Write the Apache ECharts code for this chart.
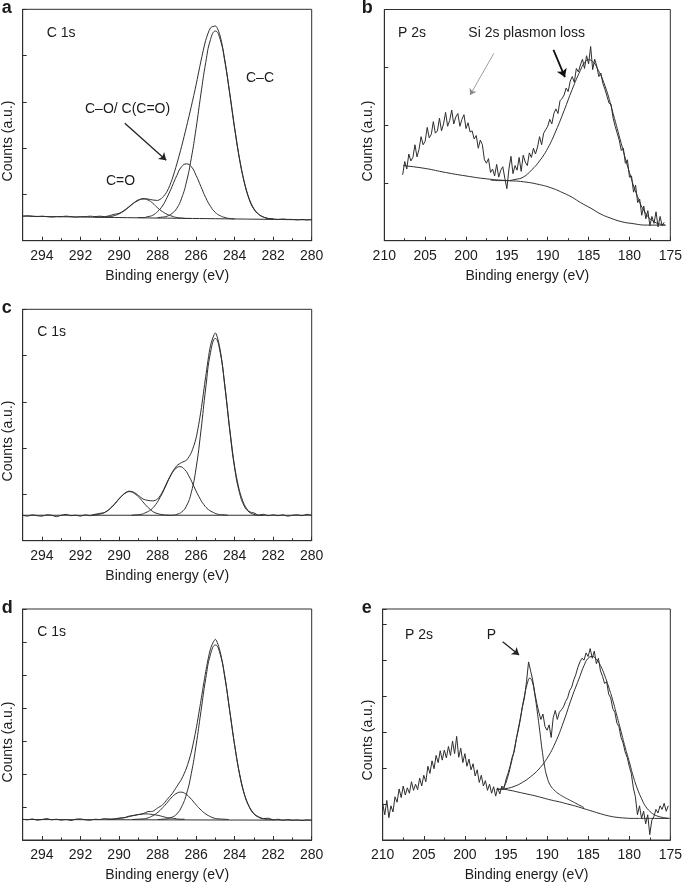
<!DOCTYPE html>
<html><head><meta charset="utf-8">
<script src="https://cdn.jsdelivr.net/npm/echarts@6/dist/echarts.min.js"></script>
<style>html,body{margin:0;padding:0;background:#fff}#c{width:685px;height:884px}</style>
</head><body><div id="c"></div>
<script>
// ---------- shared energy grids (eV) ----------
const cEnergy = [295,294.75,294.5,294.25, 294,293.75,293.5,293.25, 293,292.75,292.5,292.25, 292,291.75,291.5,291.25,
  291,290.75,290.5,290.25, 290,289.75,289.5,289.25, 289,288.75,288.5,288.25, 288,287.75,287.5,287.25,
  287,286.75,286.5,286.25, 286,285.75,285.5,285.25, 285,284.75,284.5,284.25, 284,283.75,283.5,283.25,
  283,282.75,282.5,282.25, 282,281.75,281.5,281.25, 281,280.75,280.5,280.25, 280];

// ---------- panel a: C 1s ----------
const aRaw = [0.53,0.54,0.53,0.52, 0.53,0.52,0.51,0.52, 0.52,0.53,0.52,0.51, 0.52,0.52,0.53,0.52,
  0.53,0.52,0.54,0.57, 0.59,0.65,0.73,0.81, 0.87,0.91,0.90,0.88, 0.87,0.93,1.07,1.32,
  1.66,2.04,2.46,2.90, 3.37,3.88,4.33,4.60, 4.64,4.42,3.88,3.18, 2.44,1.78,1.27,0.91,
  0.69,0.57,0.51,0.48, 0.47,0.46,0.47,0.46, 0.46,0.45,0.46,0.45, 0.46];
const aCCE = [288,287.75,287.5,287.25,287,286.75,286.5,286.25,286,285.75,285.5,285.25,285,284.75,284.5,284.25,284,283.75,283.5,283.25,283,282.75,282.5,282.25,282];
const aCC  = [0.50,0.51,0.53,0.59,0.70,0.92,1.27,1.78,2.43,3.17,3.85,4.35,4.53,4.35,3.85,3.16,2.42,1.77,1.26,0.90,0.68,0.57,0.51,0.48,0.47];
const aCOE = [289,288.75,288.5,288.25,288,287.75,287.5,287.25,287,286.75,286.5,286.25,286,285.75,285.5,285.25,285,284.75,284.5,284.25,284];
const aCO  = [0.50,0.50,0.52,0.55,0.63,0.75,0.94,1.17,1.41,1.60,1.66,1.60,1.41,1.17,0.93,0.74,0.61,0.54,0.50,0.48,0.47];
const aCdOE = [291.25,291,290.75,290.5,290.25,290,289.75,289.5,289.25,289,288.75,288.5,288.25,288,287.75,287.5,287.25,287,286.75,286.5,286.25];
const aCdO  = [0.51,0.51,0.51,0.52,0.54,0.58,0.64,0.72,0.81,0.88,0.90,0.88,0.81,0.71,0.63,0.57,0.53,0.50,0.49,0.48,0.48];
const aBgE = [295,290,285,280];
const aBg  = [0.53,0.50,0.475,0.45];

// ---------- panel c: C 1s ----------
const cRaw = [0.55,0.53,0.56,0.54, 0.53,0.56,0.55,0.52, 0.55,0.57,0.54,0.55, 0.53,0.56,0.54,0.57,
  0.59,0.61,0.68,0.78, 0.90,1.01,1.07,1.05, 0.98,0.90,0.87,0.86, 0.90,1.05,1.27,1.47,
  1.62,1.69,1.74,1.90, 2.22,2.80,3.55,4.22, 4.49,4.12,3.33,2.40, 1.60,1.08,0.78,0.63,
  0.60,0.55,0.57,0.54, 0.56,0.54,0.56,0.53, 0.55,0.56,0.54,0.57, 0.55];
const cCCE = [287.5,287.25,287,286.75,286.5,286.25,286,285.75,285.5,285.25,285,284.75,284.5,284.25,284,283.75,283.5,283.25,283,282.75,282.5];
const cCC  = [0.55,0.55,0.57,0.62,0.75,1.04,1.57,2.37,3.30,4.07,4.37,4.07,3.30,2.37,1.57,1.04,0.75,0.62,0.57,0.55,0.55];
const cCOE = [289.35,289.1,288.85,288.6,288.35,288.1,287.85,287.6,287.35,287.1,286.85,286.6,286.35,286.1,285.85,285.6,285.35,285.1,284.85,284.6,284.35];
const cCO  = [0.55,0.56,0.57,0.61,0.67,0.78,0.95,1.16,1.38,1.54,1.60,1.54,1.38,1.16,0.95,0.78,0.67,0.61,0.57,0.56,0.55];
const cCdOE = [291.45,291.2,290.95,290.7,290.45,290.2,289.95,289.7,289.45,289.2,288.95,288.7,288.45,288.2,287.95,287.7,287.45];
const cCdO  = [0.55,0.56,0.58,0.62,0.70,0.81,0.93,1.02,1.06,1.02,0.93,0.81,0.70,0.62,0.58,0.56,0.55];
const cBgE = [295,280];
const cBg  = [0.55,0.55];

// ---------- panel d: C 1s ----------
const dRaw = [0.63,0.61,0.64,0.60, 0.62,0.65,0.61,0.63, 0.60,0.62,0.59,0.63, 0.64,0.61,0.60,0.63,
  0.62,0.65,0.63,0.64, 0.66,0.67,0.72,0.74, 0.77,0.80,0.86,0.87, 0.97,1.06,1.23,1.40,
  1.62,1.85,2.18,2.66, 3.36,4.22,5.10,5.80, 6.08,5.70,4.93,3.90, 2.88,2.02,1.40,1.02,
  0.80,0.70,0.65,0.66, 0.61,0.63,0.60,0.62, 0.60,0.61,0.59,0.61, 0.60];
const dCCE = [288,287.75,287.5,287.25,287,286.75,286.5,286.25,286,285.75,285.5,285.25,285,284.75,284.5,284.25,284,283.75,283.5,283.25,283,282.75,282.5,282.25,282];
const dCC  = [0.62,0.63,0.645,0.69,0.79,1.01,1.39,2.01,2.87,3.89,4.89,5.63,5.91,5.63,4.89,3.89,2.87,2.01,1.39,1.01,0.79,0.69,0.64,0.63,0.62];
const dCOE = [289.3,289.05,288.8,288.55,288.3,288.05,287.8,287.55,287.3,287.05,286.8,286.55,286.3,286.05,285.8,285.55,285.3,285.05,284.8,284.55,284.3];
const dCO  = [0.62,0.63,0.64,0.66,0.72,0.81,0.94,1.10,1.27,1.40,1.45,1.40,1.27,1.10,0.94,0.81,0.72,0.66,0.64,0.63,0.62];
const dCdOE = [290.6,290.35,290.1,289.85,289.6,289.35,289.1,288.85,288.6,288.35,288.1,287.85,287.6,287.35,287.1,286.85,286.6];
const dCdO  = [0.63,0.63,0.65,0.67,0.69,0.73,0.76,0.78,0.79,0.78,0.76,0.73,0.69,0.67,0.65,0.63,0.63];
const dBgE = [295,280];
const dBg  = [0.62,0.60];

// ---------- panel b: P 2s ----------
const bEnergy = [207.75,207.5,207.25,
  207,206.75,206.5,206.25, 206,205.75,205.5,205.25, 205,204.75,204.5,204.25, 204,203.75,203.5,203.25,
  203,202.75,202.5,202.25, 202,201.75,201.5,201.25, 201,200.75,200.5,200.25, 200,199.75,199.5,199.25,
  199,198.75,198.5,198.25, 198,197.75,197.5,197.25, 197,196.75,196.5,196.25, 196,195.75,195.5,195.25,
  195,194.75,194.5,194.25, 194,193.75,193.5,193.25, 193,192.75,192.5,192.25, 192,191.75,191.5,191.25,
  191,190.75,190.5,190.25, 190,189.75,189.5,189.25, 189,188.75,188.5,188.25, 188,187.75,187.5,187.25,
  187,186.75,186.5,186.25, 186,185.75,185.5,185.25, 185,184.75,184.5,184.25, 184,183.75,183.5,183.25,
  183,182.75,182.5,182.25, 182,181.75,181.5,181.25, 181,180.75,180.5,180.25, 180,179.75,179.5,179.25,
  179,178.75,178.5,178.25, 178,177.75,177.5,177.25, 177,176.75,176.5,176.25, 176,175.75];
const bRaw = [1.14,1.37,1.24,
  1.50,1.38,1.44,1.66, 1.45,1.58,1.80,1.66, 1.72,1.96,1.78,1.84, 2.06,1.86,1.90,2.12,
  1.90,2.02,2.22,1.98, 2.08,2.26,2.02,2.14, 2.20,1.98,2.10,2.18, 1.94,2.04,1.88,1.90,
  1.76,1.82,1.60,1.74, 1.66,1.40,1.34,1.42, 1.18,1.24,1.12,1.32, 1.10,1.22,1.28,1.08,
  0.90,1.24,1.46,1.16, 1.30,1.22,1.44,1.20, 1.48,1.36,1.30,1.52, 1.44,1.60,1.50,1.62,
  1.80,1.66,1.86,1.92, 1.98,2.10,2.02,2.20, 2.28,2.20,2.42,2.46, 2.52,2.64,2.58,2.76,
  2.84,2.74,2.98,2.92, 3.04,3.14,2.98,3.20, 3.06,3.36,2.96,3.14, 3.02,2.84,2.90,2.72,
  2.62,2.50,2.38,2.36, 2.12,1.98,1.86,1.74, 1.56,1.60,1.34,1.40, 1.10,1.12,0.84,0.96,
  0.66,0.72,0.44,0.60, 0.38,0.52,0.26,0.42, 0.30,0.50,0.24,0.42, 0.26,0.32];
const bFitE = [197,196,195,194,193,192,191,190,189,188,187,186,185.5,185,184.5,184,183,182,181,180,179,178,177,176,175.6];
const bFit  = [1.05,1.04,1.04,1.06,1.10,1.22,1.38,1.60,1.90,2.25,2.62,2.95,3.08,3.13,3.10,3.00,2.68,2.20,1.68,1.18,0.76,0.47,0.33,0.28,0.27];
const bBgE = [207.7,205,202.5,200,197.5,195,193,191,189.5,188,187,186,184.7,183.5,182.3,181,179.8,177.8,175.6];
const bBg  = [1.30,1.25,1.18,1.12,1.07,1.04,1.02,0.97,0.91,0.82,0.75,0.66,0.56,0.46,0.39,0.33,0.30,0.27,0.27];

// ---------- panel e: P 2s ----------
const eEnergy = [210,209.75,209.5,209.25, 209,208.75,208.5,208.25, 208,207.75,207.5,207.25, 207,206.75,206.5,206.25,
  206,205.75,205.5,205.25, 205,204.75,204.5,204.25, 204,203.75,203.5,203.25, 203,202.75,202.5,202.25,
  202,201.75,201.5,201.25, 201,200.75,200.5,200.25, 200,199.75,199.5,199.25, 199,198.75,198.5,198.25,
  198,197.75,197.5,197.25, 197,196.75,196.5,196.25, 196,195.75,195.5,195.25, 195,194.75,194.5,194.25,
  194,193.75,193.5,193.25, 193,192.75,192.5,192.25, 192,191.75,191.5,191.25, 191,190.75,190.5,190.25,
  190,189.75,189.5,189.25, 189,188.75,188.5,188.25, 188,187.75,187.5,187.25, 187,186.75,186.5,186.25,
  186,185.75,185.5,185.25, 185,184.75,184.5,184.25, 184,183.75,183.5,183.25, 183,182.75,182.5,182.25,
  182,181.75,181.5,181.25, 181,180.75,180.5,180.25, 180,179.75,179.5,179.25, 179,178.75,178.5,178.25,
  178,177.75,177.5,177.25, 177,176.75,176.5,176.25, 176,175.75,175.5,175.25];
const eRaw = [1.02,0.70,1.10,0.62, 0.95,0.78,1.20,1.05, 1.42,1.18,1.50,1.25, 1.45,1.30,1.62,1.38,
  1.55,1.40,1.72,1.50, 1.80,1.62,2.05,1.85, 2.20,1.98,2.35,2.15, 2.48,2.22,2.50,2.28,
  2.60,2.35,2.75,2.40, 2.88,2.30,2.55,2.15, 2.40,2.05,2.25,1.95, 2.12,1.78,1.95,1.60,
  1.80,1.50,1.65,1.38, 1.55,1.30,1.48,1.22, 1.45,1.28,1.50,1.42, 1.68,1.85,2.05,2.30,
  2.45,2.80,3.05,3.35, 3.70,3.95,4.40,4.95, 4.70,4.45,4.10,3.80, 3.55,3.35,3.50,3.15,
  3.05,3.20,2.85,3.40, 3.60,3.35,3.55,3.62, 3.70,3.85,3.95,4.15, 4.25,4.45,4.60,4.80,
  4.95,5.05,5.00,5.20, 5.10,5.32,5.05,5.25, 4.90,5.05,4.70,4.55, 4.35,4.40,4.05,3.95,
  3.65,3.55,3.25,3.15, 2.85,2.70,2.45,2.30, 2.05,1.85,1.45,1.20, 0.70,0.95,0.60,0.80,
  0.45,0.70,0.15,0.55, 0.65,0.85,0.75,0.95, 0.85,1.02,0.80,0.95];
const ePE = [195.6,195.2,194.8,194.4,194,193.6,193.2,192.8,192.4,192.1,191.8,191.5,191.2,190.9,190.6,190.3,190,189.6,189,188.5,188,187.5,187,186.5,186,185.5];
const eP  = [1.41,1.50,1.74,2.10,2.50,2.98,3.45,3.95,4.35,4.50,4.40,4.05,3.58,3.05,2.50,2.05,1.75,1.52,1.36,1.27,1.20,1.14,1.08,1.02,0.96,0.90];
const ePlE = [196,195,194,193,192,191,190,189,188,187,186,185.5,185,184.5,184,183.5,183,182.5,182,181.5,181,180.5,180,179.5,179,178.5,178,177.5,177,176.5,176,175.5,175.1];
const ePl  = [1.41,1.43,1.49,1.60,1.76,1.97,2.27,2.70,3.28,3.95,4.55,4.85,5.05,5.10,5.02,4.85,4.58,4.25,3.88,3.45,3.02,2.58,2.18,1.76,1.42,1.15,0.93,0.80,0.71,0.66,0.63,0.61,0.60];
const eBgE = [196.2,195.5,194.5,193.5,192.5,191.5,190.5,189.5,188.5,187.5,186.5,185.5,184.5,183.5,182.5,181.5,180.5,179.5,178,176.5,175.1];
const eBg  = [1.41,1.41,1.38,1.33,1.28,1.23,1.17,1.11,1.06,1.00,0.94,0.87,0.80,0.73,0.67,0.63,0.61,0.60,0.60,0.60,0.60];

// ---------- axis ticks ----------
const cTicks = {min:280, max:295, interval:2};
const pTicks = {min:175, max:210, interval:5};
const yMax = {a:5, b:4, c:5, d:7, e:6.42};

// ---------- build ----------
const FONT = '"Liberation Sans", Arial, Helvetica, sans-serif';
const INK = '#2e2e2e';
const pair = (xs, ys) => xs.map((x, i) => [x, ys[i]]);

const grids = [
  {left:22.7, top:9.3, width:289, height:231.4},
  {left:384.3, top:9.5, width:289, height:231.2},
  {left:22.7, top:309.3, width:289, height:231.4},
  {left:22.7, top:609, width:289, height:231},
  {left:382.7, top:609, width:289.6, height:231}
].map(g => Object.assign({show:true, borderColor:INK, borderWidth:1, backgroundColor:'transparent'}, g));

function xAx(i, t, hideMax) {
  return {type:'value', gridIndex:i, min:t.min, max:t.max, interval:t.interval, inverse:true,
    axisLine:{show:true, onZero:false, lineStyle:{color:INK, width:1}},
    axisTick:{show:true, inside:true, length:4, lineStyle:{color:INK}},
    minorTick:{show:true, splitNumber:2, length:2.5, lineStyle:{color:INK}},
    splitLine:{show:false},
    axisLabel:{color:'#1c1c1c', fontFamily:FONT, fontSize:14, margin:8, showMaxLabel:!hideMax},
    name:'Binding energy (eV)', nameLocation:'middle', nameGap:28,
    nameTextStyle:{color:'#1c1c1c', fontFamily:FONT, fontSize:14}};
}
function yAx(i, max) {
  return {type:'value', gridIndex:i, min:0, max:max, interval:1,
    axisLine:{show:true, onZero:false, lineStyle:{color:INK, width:1}},
    axisTick:{show:true, inside:true, length:4, lineStyle:{color:INK}},
    axisLabel:{show:false}, splitLine:{show:false}};
}
function line(i, xs, ys, smooth, extra) {
  return Object.assign({type:'line', xAxisIndex:i, yAxisIndex:i, data:pair(xs, ys),
    showSymbol:false, symbol:'none', smooth:smooth, silent:true,
    lineStyle:{color:INK, width:1}}, extra || {});
}
function arrow(e1, y1, e2, y2, color, width, size) {
  return {markLine:{silent:true, animation:false, label:{show:false},
    lineStyle:{color:color, width:width, type:'solid'},
    data:[[{coord:[e1, y1], symbol:'none'}, {coord:[e2, y2], symbol:'arrow', symbolSize:size}]]}};
}

const series = [
  // a
  line(0, cEnergy, aRaw, 0.25, arrow(289.7, 2.54, 287.55, 1.74, '#222', 1.3, 7)),
  line(0, aCCE, aCC, true), line(0, aCOE, aCO, true), line(0, aCdOE, aCdO, true), line(0, aBgE, aBg, true),
  // b
  line(1, bEnergy, bRaw, false, arrow(196.6, 3.24, 199.5, 2.52, '#888', 0.8, 6)),
  line(1, bFitE, bFit, true, arrow(189.3, 3.30, 187.9, 2.83, '#111', 1.8, 8)),
  line(1, bBgE, bBg, true),
  // c
  line(2, cEnergy, cRaw, 0.25), line(2, cCCE, cCC, true), line(2, cCOE, cCO, true), line(2, cCdOE, cCdO, true), line(2, cBgE, cBg, false),
  // d
  line(3, cEnergy, dRaw, 0.25), line(3, dCCE, dCC, true), line(3, dCOE, dCO, true), line(3, dCdOE, dCdO, true), line(3, dBgE, dBg, false),
  // e
  line(4, eEnergy, eRaw, false, arrow(195.4, 5.51, 193.4, 5.14, '#222', 1.3, 7)),
  line(4, ePE, eP, true), line(4, ePlE, ePl, true), line(4, eBgE, eBg, true)
];

function txt(s, x, y, size, bold, extra) {
  return Object.assign({type:'text', x:x, y:y, silent:true, z:100,
    style:{text:s, fill:'#1c1c1c', font:(bold ? 'bold ' : '') + size + 'px ' + FONT, align:'left', verticalAlign:'middle'}}, extra || {});
}
function ytitle(x, y) {
  return {type:'text', x:x, y:y, rotation:Math.PI/2, silent:true, z:100,
    style:{text:'Counts (a.u.)', fill:'#1c1c1c', font:'14px ' + FONT, align:'center', verticalAlign:'middle'}};
}
const graphic = [
  txt('a', 1.7, 7.6, 18, true), txt('b', 361.7, 7.6, 18, true), txt('c', 1.7, 307.6, 18, true),
  txt('d', 1.7, 607.6, 18, true), txt('e', 361.7, 607.6, 18, true),
  txt('C 1s', 46.7, 33, 14), txt('C\u2013C', 246, 78, 14), txt('C\u2013O/ C(C=O)', 85, 109, 14), txt('C=O', 106, 181, 14),
  txt('P 2s', 398, 33, 14), txt('Si 2s plasmon loss', 468.3, 33, 14),
  txt('C 1s', 37.3, 331.7, 14), txt('C 1s', 37.3, 631.7, 14),
  txt('P 2s', 405, 635, 14), txt('P', 486.7, 635, 14),
  ytitle(8, 141), ytitle(368, 141), ytitle(8, 441), ytitle(8, 742), ytitle(368, 740)
];

const chart = echarts.init(document.getElementById('c'), null, {renderer:'canvas'});
chart.setOption({
  animation:false, backgroundColor:'#fff',
  grid:grids,
  xAxis:[xAx(0, cTicks, true), xAx(1, pTicks, false), xAx(2, cTicks, true), xAx(3, cTicks, true), xAx(4, pTicks, false)],
  yAxis:[yAx(0, yMax.a), yAx(1, yMax.b), yAx(2, yMax.c), yAx(3, yMax.d), yAx(4, yMax.e)],
  series:series,
  graphic:graphic
});
</script></body></html>
